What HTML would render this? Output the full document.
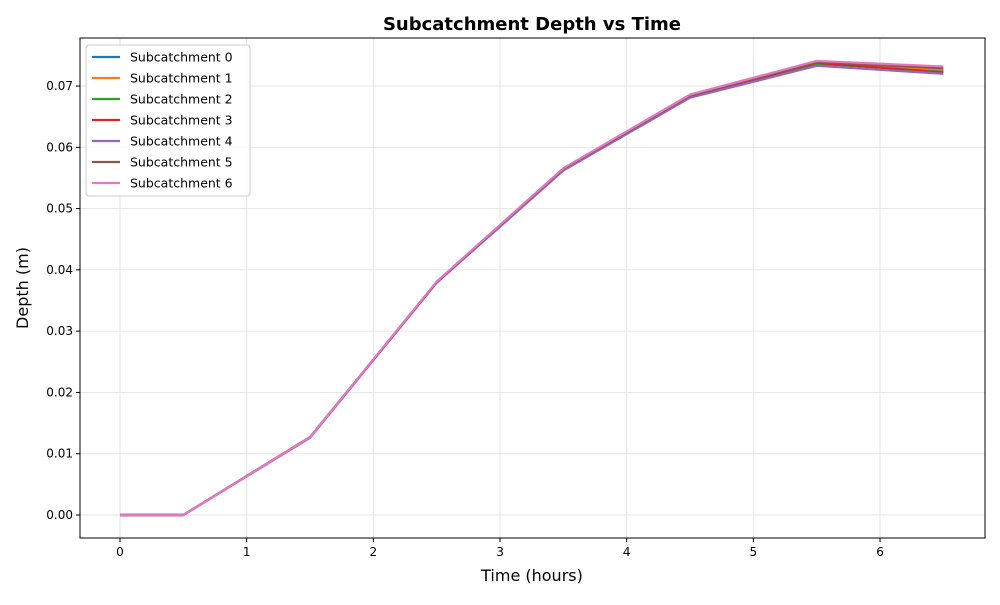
<!DOCTYPE html>
<html><head><meta charset="utf-8"><style>
body{margin:0;background:#fff;font-family:"Liberation Sans","DejaVu Sans",sans-serif}
</style></head><body>
<svg id="chart" width="1000" height="600" xmlns="http://www.w3.org/2000/svg" font-family="DejaVu Sans, Liberation Sans, sans-serif">
<rect width="1000" height="600" fill="#fff"/>
<text x="532" y="30" text-anchor="middle" font-size="18" font-weight="bold">Subcatchment Depth vs Time</text>
<g id="grid"></g><g id="axes"></g><g id="series"></g><g id="legend"></g>
<text x="532" y="581" text-anchor="middle" font-size="16">Time (hours)</text>
<text x="28" y="288" text-anchor="middle" font-size="16" transform="rotate(-90 28 288)">Depth (m)</text>
</svg>
<script>
const times=[0,0.5,1.5,2.5,3.5,4.5,5.5,6.5];
const s0=[0,0,0.0127,0.0380,0.0564,0.0683,0.0736,0.0725];
const s1=[0,0,0.0127,0.0380,0.0564,0.0683,0.0737,0.0727];
const s2=[0,0,0.0127,0.0380,0.0564,0.0683,0.0737,0.0723];
const s3=[0,0,0.0127,0.0380,0.0564,0.0683,0.0738,0.0722];
const s4=[0,0,0.0126,0.0379,0.0562,0.0681,0.0733,0.0720];
const s5=[0,0,0.0127,0.0380,0.0565,0.0684,0.0739,0.0729];
const s6=[0,0,0.0127,0.0381,0.0566,0.0686,0.0741,0.0732];
const seriesNames=["Subcatchment 0","Subcatchment 1","Subcatchment 2","Subcatchment 3","Subcatchment 4","Subcatchment 5","Subcatchment 6"];
const xTicks=[0,1,2,3,4,5,6];
const yTicks=[0,0.01,0.02,0.03,0.04,0.05,0.06,0.07];
const allSeries=[s0,s1,s2,s3,s4,s5,s6];
const colors=["#1f77b4","#ff7f0e","#2ca02c","#d62728","#9467bd","#8c564b","#e377c2"];
const NS="http://www.w3.org/2000/svg";
const L=80,R=985,T=38,B=538;
const xs=t=>120+t*126.67;
const ys=v=>515-v*6128;
function mk(tag,attrs,parent){const e=document.createElementNS(NS,tag);for(const k in attrs)e.setAttribute(k,attrs[k]);parent.appendChild(e);return e;}
const grid=document.getElementById('grid'),axes=document.getElementById('axes'),ser=document.getElementById('series'),leg=document.getElementById('legend');
xTicks.forEach(t=>{const x=xs(t);
 const g=mk('line',{x1:x,x2:x,y1:T,y2:B,stroke:'#e6e6e6','stroke-width':1},grid);
 
 
 mk('line',{x1:x,x2:x,y1:B,y2:B+4,stroke:'#000'},axes);
 const tx=mk('text',{x:x,y:B+18,'text-anchor':'middle','font-size':12},axes);tx.textContent=t;
 
 
});
yTicks.forEach(v=>{const y=ys(v);
 const g=mk('line',{x1:L,x2:R,y1:y,y2:y,stroke:'#e6e6e6','stroke-width':1},grid);
 
 
 mk('line',{x1:L-4,x2:L,y1:y,y2:y,stroke:'#000'},axes);
 const tx=mk('text',{x:L-7,y:y+4,'text-anchor':'end','font-size':12},axes);tx.textContent=v.toFixed(2);
 
 
});
const fr=mk('rect',{x:L,y:T,width:R-L,height:B-T,fill:'none',stroke:'#000','stroke-width':1},axes);


allSeries.forEach((s,i)=>{
 const p=mk('polyline',{points:s.map((v,j)=>xs(times[j])+','+ys(v)).join(' '),fill:'none',stroke:colors[i],'stroke-width':2.2,'stroke-linejoin':'round'},ser);
 
 
});
const lb=mk('rect',{x:86,y:45,width:164,height:151,rx:3,fill:'#fff','fill-opacity':0.85,stroke:'#ccc'},leg);


seriesNames.forEach((n,i)=>{const y=57+i*21;
 const g=mk('g',{},leg);
 
 
 mk('line',{x1:92,x2:120,y1:y,y2:y,stroke:colors[i],'stroke-width':2.2},g);
 const t=mk('text',{x:130,y:y+4.5,'font-size':12.5},g);t.textContent=n;
});
</script>
</body></html>
